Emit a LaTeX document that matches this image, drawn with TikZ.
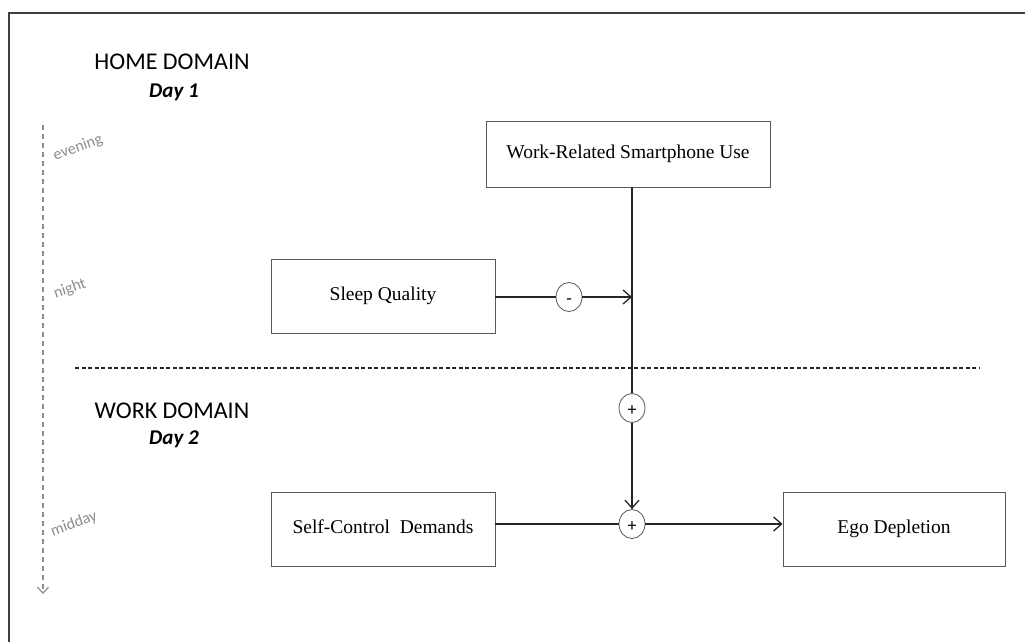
\documentclass[tikz,border=0pt]{standalone}
\usepackage{fontspec}
\setmainfont{Liberation Serif}
\newfontfamily\calib{Carlito}
\usetikzlibrary{arrows.meta,shapes.geometric}
\definecolor{framegray}{gray}{0.25}
\definecolor{boxgray}{gray}{0.35}
\definecolor{timegray}{gray}{0.55}
\tikzset{
  varbox/.style={draw=boxgray,line width=0.9pt,minimum width=#1,minimum height=74pt,inner sep=0pt,text height=13pt,text depth=4pt,font=\fontsize{19.5}{22}\selectfont},
  varbox/.default=224pt,
  sign/.style={ellipse,draw=boxgray,line width=0.8pt,minimum width=26pt,minimum height=29pt,inner sep=0pt,text height=14pt,text depth=0pt,font=\calib\fontsize{18}{18}\selectfont},
  conn/.style={line width=1.5pt,draw=black!85},
  arr/.style={conn,-{Straight Barb[length=8pt,width=14pt,line width=1.3pt]}},
  domainlbl/.style={font=\calib\fontsize{24}{26}\selectfont},
  daylbl/.style={font=\calib\bfseries\itshape\fontsize{21}{23}\selectfont},
  timelbl/.style={font=\calib\fontsize{16}{17}\selectfont,text=timegray,rotate=20,inner sep=0pt},
}
\begin{document}
\begin{tikzpicture}[x=1pt,y=-1pt]
\useasboundingbox (0,0) rectangle (1025,641);
\draw[framegray,line width=1.6pt] (9,645) -- (9,13) -- (1030,13);
% domain labels
\node[domainlbl] (home) at (172,62) {HOME DOMAIN};
\node[daylbl] (day1) at (174,92) {Day 1};
\node[domainlbl] (work) at (172,411) {WORK DOMAIN};
\node[daylbl] (day2) at (174,439) {Day 2};
% time axis
\coordinate (tstart) at (43,125);
\coordinate (tend) at (43,594);
\draw[timegray,line width=1.3pt,dash pattern=on 5pt off 4pt,-{Straight Barb[length=6pt,width=11pt,line width=1.2pt]}] (tstart) -- (tend);
\node[timelbl] (evening) at (78,148) {evening};
\node[timelbl] (night) at (70,289) {night};
\node[timelbl] (midday) at (74,524) {midday};
% divider
\coordinate (dl) at (75,368);
\coordinate (dr) at (980,368);
\draw[black!85,line width=1.2pt,dash pattern=on 4pt off 2.5pt] (dl) -- (dr);
% boxes
\node[varbox=284pt,minimum height=66pt] (wrsu) at (628,154) {Work-Related Smartphone Use};
\node[varbox] (sleep) at (383,296) {Sleep Quality};
\node[varbox] (scd) at (383,529) {Self-Control\ \ Demands};
\node[varbox=222pt] (ego) at (894,529) {Ego Depletion};
% signs
\node[sign] (minus) at (569,297) {-};
\node[sign] (plusa) at (632,408) {+};
\node[sign] (plusb) at (632,524) {+};
\coordinate (meet) at (632,297);
% connectors
\draw[conn] (wrsu.south -| plusa) -- (plusa);
\draw[arr] (plusa) -- (plusb);
\draw[conn] (sleep.east |- minus) -- (minus);
\draw[arr] (minus) -- (meet);
\draw[conn] (scd.east |- plusb) -- (plusb);
\draw[arr] (plusb) -- (ego.west |- plusb);
\end{tikzpicture}
\end{document}
